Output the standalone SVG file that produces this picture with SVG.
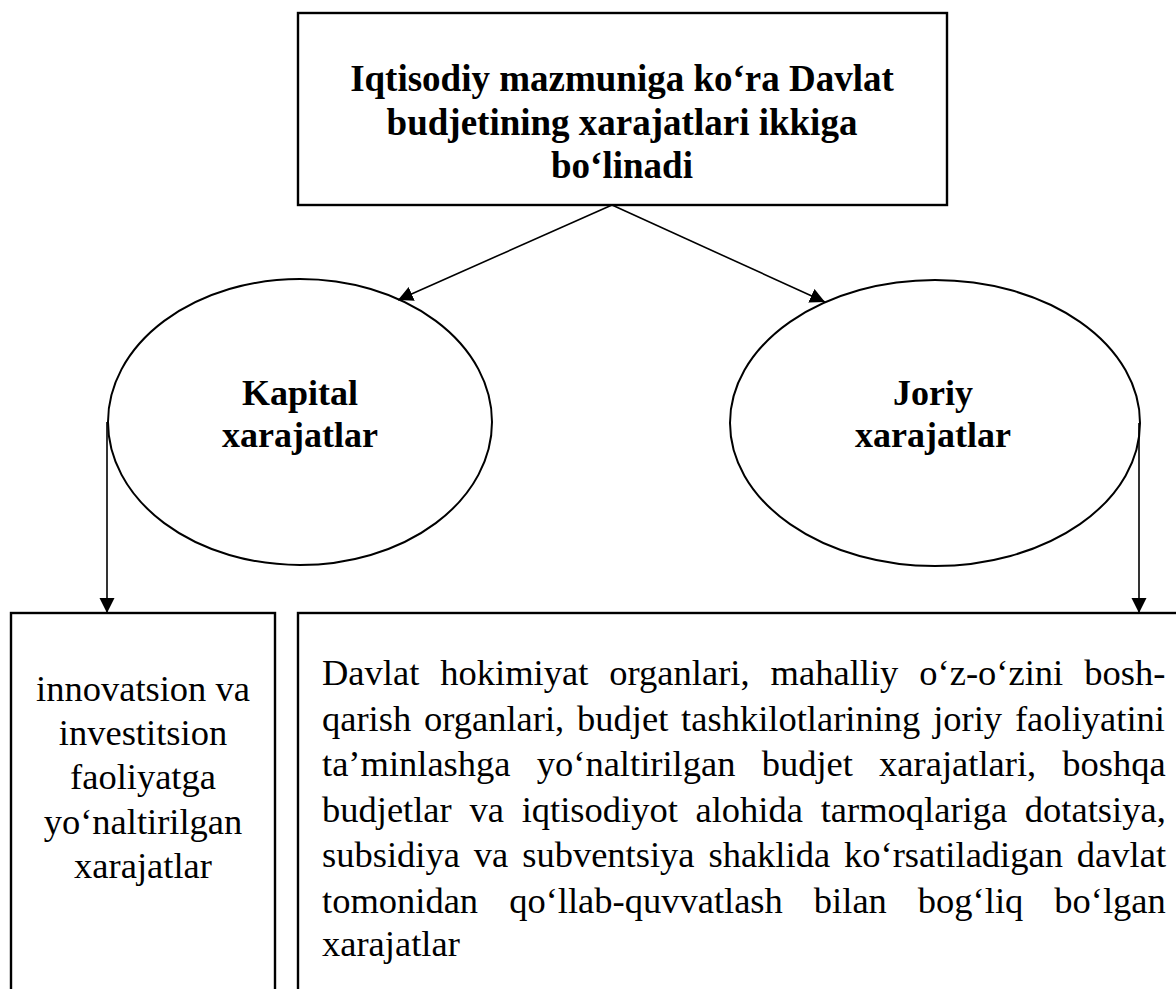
<svg xmlns="http://www.w3.org/2000/svg" width="1176" height="989" viewBox="0 0 1176 989">
<defs>
<marker id="ah" markerUnits="userSpaceOnUse" markerWidth="16" markerHeight="16" refX="15" refY="7.5" orient="auto">
<path d="M0,0 L15,7.5 L0,15 z" fill="#000"/>
</marker>
<style>
.box{fill:#fff;stroke:#000;stroke-width:2.4}
.ell{fill:#fff;stroke:#000;stroke-width:2}
.con{fill:none;stroke:#000;stroke-width:1.6;marker-end:url(#ah)}
.hd{font-family:"Liberation Serif","Times New Roman",serif;font-weight:bold;fill:#000;text-anchor:middle}
.tx{font-family:"Liberation Serif","Times New Roman",serif;font-size:36.5px;fill:#000}
</style>
</defs>
<rect width="1176" height="989" fill="#fff"/>
<g id="top">
<rect class="box" x="298" y="13" width="649" height="192"/>
<text class="hd" font-size="37" x="622" y="91">Iqtisodiy mazmuniga ko‘ra Davlat</text>
<text class="hd" font-size="37" x="622" y="135">budjetining xarajatlari ikkiga</text>
<text class="hd" font-size="37" x="622" y="178">bo‘linadi</text>
</g>
<g id="kapital">
<ellipse class="ell" cx="300" cy="422" rx="192" ry="143"/>
<text class="hd" font-size="36" x="300" y="405">Kapital</text>
<text class="hd" font-size="36" x="300" y="447">xarajatlar</text>
</g>
<g id="joriy">
<ellipse class="ell" cx="935" cy="423" rx="205" ry="143"/>
<text class="hd" font-size="36" x="933" y="405">Joriy</text>
<text class="hd" font-size="36" x="933" y="447">xarajatlar</text>
</g>
<g id="left-box">
<rect class="box" x="11" y="613" width="264" height="400"/>
<text class="tx" text-anchor="middle" x="143" y="701">innovatsion va</text>
<text class="tx" text-anchor="middle" x="143" y="745">investitsion</text>
<text class="tx" text-anchor="middle" x="143" y="789">faoliyatga</text>
<text class="tx" text-anchor="middle" x="143" y="834">yo‘naltirilgan</text>
<text class="tx" text-anchor="middle" x="143" y="878">xarajatlar</text>
</g>
<g id="right-box">
<rect class="box" x="298" y="613" width="900" height="400"/>
<text class="tx" x="322" y="685" word-spacing="11.9">Davlat hokimiyat organlari, mahalliy o‘z-o‘zini bosh-</text>
<text class="tx" x="322" y="730.5" word-spacing="3.7">qarish organlari, budjet tashkilotlarining joriy faoliyatini</text>
<text class="tx" x="322" y="776" word-spacing="17.1">ta’minlashga yo‘naltirilgan budjet xarajatlari, boshqa</text>
<text class="tx" x="322" y="821.5" word-spacing="8.6">budjetlar va iqtisodiyot alohida tarmoqlariga dotatsiya,</text>
<text class="tx" x="322" y="867" word-spacing="4.8">subsidiya va subventsiya shaklida ko‘rsatiladigan davlat</text>
<text class="tx" x="322" y="912.5" word-spacing="21.9">tomonidan qo‘llab-quvvatlash bilan bog‘liq bo‘lgan</text>
<text class="tx" x="322" y="956">xarajatlar</text>
</g>
<g id="connectors">
<line class="con" x1="612" y1="205" x2="398" y2="300"/>
<line class="con" x1="612" y1="205" x2="825" y2="302"/>
<line class="con" x1="107" y1="422" x2="107" y2="613"/>
<line class="con" x1="1139" y1="423" x2="1139" y2="613"/>
</g>
</svg>
